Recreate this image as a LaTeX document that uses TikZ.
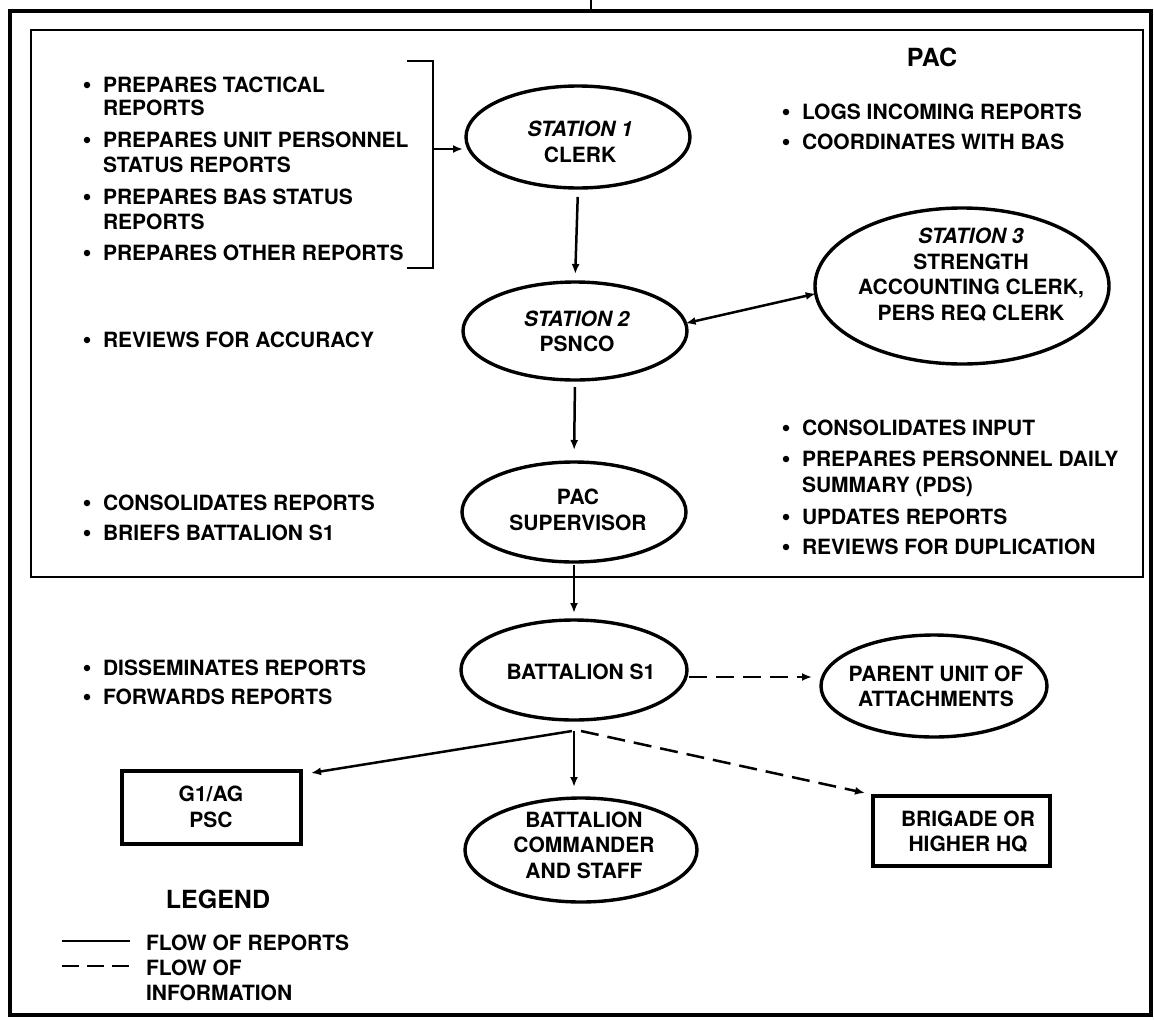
\documentclass[tikz,border=0pt]{standalone}
\usepackage{fontspec}
\setmainfont{TeX Gyre Heros}
\usetikzlibrary{arrows.meta,shapes.geometric}
\tikzset{
 txt/.style={font=\fontsize{21}{25.5}\selectfont\bfseries, inner sep=0pt, outer sep=0pt},
 ctxt/.style={txt, align=center},
 big/.style={font=\fontsize{25}{30}\selectfont\bfseries, inner sep=0pt, outer sep=0pt},
 ell/.style={draw, ellipse, line width=3.4pt, inner sep=0pt, outer sep=0pt},
 box/.style={draw, rectangle, line width=3.2pt, inner sep=0pt, outer sep=0pt},
 bul/.style={circle, fill, inner sep=0pt, minimum size=6.5pt},
 arr/.style={line width=2.5pt, -{Latex[length=10pt,width=8pt]}},
 darr/.style={arr, dash pattern=on 18pt off 9pt},
 dbl/.style={line width=2.5pt, {Latex[length=10pt,width=8pt]}-{Latex[length=10pt,width=8pt]}},
}
\newcommand{\mkline}[4]{\node[txt,anchor=base west] (#1) at (#2,#3+7.5) {#4};}
\newcommand{\mkbul}[3]{\node[bul] (#1) at (#2,#3) {};}
\begin{document}
\begin{tikzpicture}[x=1pt,y=-1pt]
\useasboundingbox (0,0) rectangle (1154,1020);
% frames
\draw[line width=3.8pt] (10,11) rectangle (1151,1015);
\coordinate (topin) at (591,0);
\coordinate (topout) at (591,11);
\draw[line width=2.2pt] (topin) -- (topout);
\draw[line width=1.8pt] (31,30) rectangle (1143,577);
\node[big] (pac) at (932,57) {PAC};

% ellipses
\node[ell, minimum width=224pt, minimum height=102pt] (s1) at (578,137) {};
\node[ctxt] (s1t) at (580,142) {\textit{STATION 1}\\CLERK};
\node[ell, minimum width=224pt, minimum height=98pt] (s2) at (575,331) {};
\node[ctxt] (s2t) at (577,331.5) {\textit{STATION 2}\\PSNCO};
\node[ell, minimum width=294pt, minimum height=156pt] (s3) at (962,286) {};
\node[ctxt] (s3t) at (971,274.5) {\textit{STATION 3}\\STRENGTH\\ACCOUNTING CLERK,\\PERS REQ CLERK};
\node[ell, minimum width=224pt, minimum height=100pt] (ps) at (574,512) {};
\node[ctxt] (pst) at (578,510) {PAC\\SUPERVISOR};
\node[ell, minimum width=226pt, minimum height=100pt] (bs1) at (574,670) {};
\node[ctxt] (bs1t) at (581,672) {BATTALION S1};
\node[ell, minimum width=226pt, minimum height=102pt] (pu) at (934,686) {};
\node[ctxt] (put) at (936,686.5) {PARENT UNIT OF\\ATTACHMENTS};
\node[ell, minimum width=232pt, minimum height=104pt] (bc) at (581,850) {};
\node[ctxt] (bct) at (584,845) {BATTALION\\COMMANDER\\AND STAFF};
\node[box, minimum width=179pt, minimum height=73pt] (g1) at (211.5,807.5) {};
\node[ctxt] (g1t) at (211,807) {G1/AG\\PSC};
\node[box, minimum width=177pt, minimum height=70pt] (br) at (961.5,831) {};
\node[ctxt] (brt) at (968,831.5) {BRIGADE OR\\HIGHER HQ};

% bracket
\coordinate (bt) at (407,61);
\coordinate (btc) at (433,61);
\coordinate (bbc) at (433,268);
\coordinate (bb) at (407,268);
\coordinate (bm) at (433,149);
\draw[line width=2.5pt] (bt) -- (btc) -- (bbc) -- (bb);
\draw[arr, shorten >=3pt] (bm) -- (s1.west |- bm);

% connectors
\draw[arr, shorten <=9pt, shorten >=8pt] (s1.south) -- (s2.north);
\draw[dbl] (s2.4) -- (s3.183);
\draw[arr, shorten <=7pt, shorten >=12pt] (s2.south) -- (ps.north);
\draw[arr, shorten <=3pt, shorten >=7pt] (ps.south) -- (bs1.north);
\coordinate (d1) at ([yshift=-7pt]bs1.east);
\draw[darr] ([xshift=2pt]d1) -- ([xshift=-9pt]pu.west |- d1);
\coordinate (hub) at ([yshift=-11pt]bs1.south);
\draw[arr] ([xshift=-2pt]hub) -- ([shift={(10pt,-2pt)}]g1.north east);
\coordinate (bctop) at ([yshift=11pt]bc.north);
\draw[arr] (hub) -- (hub |- bctop);
\draw[darr] ([xshift=7pt]hub) -- ([shift={(-8pt,3pt)}]br.north west);

% left texts
\mkbul{lb1}{87}{85}\mkline{l1a}{103}{85}{PREPARES TACTICAL}\mkline{l1b}{103}{108}{REPORTS}
\mkbul{lb2}{87}{140}\mkline{l2a}{103}{140}{PREPARES UNIT PERSONNEL}\mkline{l2b}{103}{165}{STATUS REPORTS}
\mkbul{lb3}{87}{197}\mkline{l3a}{103}{197}{PREPARES BAS STATUS}\mkline{l3b}{103}{222}{REPORTS}
\mkbul{lb4}{87}{253}\mkline{l4a}{103}{253}{PREPARES OTHER REPORTS}
\mkbul{lb5}{87}{340}\mkline{l5a}{103}{340}{REVIEWS FOR ACCURACY}
\mkbul{lb6}{87}{503}\mkline{l6a}{103}{503}{CONSOLIDATES REPORTS}
\mkbul{lb7}{87}{533}\mkline{l7a}{103}{533}{BRIEFS BATTALION S1}
\mkbul{lb8}{87}{668}\mkline{l8a}{103}{668}{DISSEMINATES REPORTS}
\mkbul{lb9}{87}{697}\mkline{l9a}{103}{697}{FORWARDS REPORTS}

% right texts
\mkbul{rb1}{786}{112}\mkline{r1a}{802}{112}{LOGS INCOMING REPORTS}
\mkbul{rb2}{786}{142}\mkline{r2a}{802}{142}{COORDINATES WITH BAS}
\mkbul{rb3}{786}{428}\mkline{r3a}{802}{428}{CONSOLIDATES INPUT}
\mkbul{rb4}{786}{459}\mkline{r4a}{802}{459}{PREPARES PERSONNEL DAILY}\mkline{r4b}{802}{485}{SUMMARY (PDS)}
\mkbul{rb5}{786}{517}\mkline{r5a}{802}{517}{UPDATES REPORTS}
\mkbul{rb6}{786}{547}\mkline{r6a}{802}{547}{REVIEWS FOR DUPLICATION}

% legend
\node[big] (leg) at (218,899) {LEGEND};
\coordinate (la1) at (62,941);
\coordinate (la2) at (130,941);
\coordinate (lb1c) at (62,966);
\coordinate (lb2c) at (130,966);
\draw[line width=2.5pt] (la1) -- (la2);
\draw[line width=2.5pt, dash pattern=on 17pt off 8pt] (lb1c) -- (lb2c);
\mkline{lg1}{146}{943}{FLOW OF REPORTS}
\mkline{lg2}{146}{968}{FLOW OF}
\mkline{lg3}{146}{993}{INFORMATION}
\end{tikzpicture}
\end{document}
